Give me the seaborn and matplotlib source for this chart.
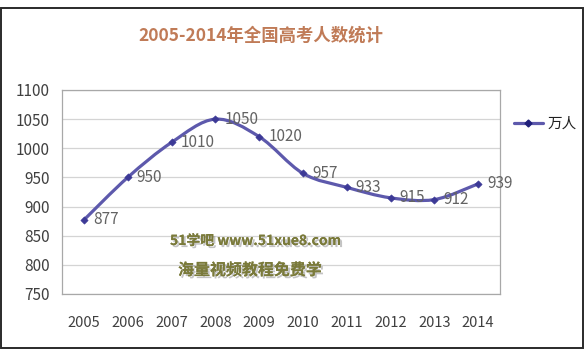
import matplotlib
matplotlib.use("Agg")
import matplotlib.pyplot as plt
import matplotlib.patheffects as pe
from matplotlib.path import Path
from matplotlib.patches import PathPatch, Rectangle
from matplotlib.lines import Line2D
import seaborn as sns
import numpy as np
import pandas as pd

years = ["2005", "2006", "2007", "2008", "2009", "2010", "2011", "2012", "2013", "2014"]
values = [877, 950, 1010, 1050, 1020, 957, 933, 915, 912, 939]
series_name = "万人"
title = "2005-2014年全国高考人数统计"
yticks = [750, 800, 850, 900, 950, 1000, 1050, 1100]
wm1 = "51学吧 www.51xue8.com"
wm2 = "海量视频教程免费学"

sns.set_theme(style="white")
plt.rcParams["font.family"] = ["Noto Sans CJK SC", "DejaVu Sans"]

fig = plt.figure(figsize=(5.84, 3.56), dpi=100)
ax = fig.add_axes([62/584, 1 - 294/356, (500-62)/584, (294-90)/356])

df = pd.DataFrame({"idx": np.arange(len(years)), "val": values})
line_color = "#5D59AC"
mark_color = "#3C3996"

# smooth curve (Excel-style) through the data points, drawn in data coordinates
pts = np.column_stack([df["idx"].values, df["val"].values]).astype(float)
verts = [tuple(pts[0])]
codes = [Path.MOVETO]
n = len(pts)
for i in range(n - 1):
    p0 = pts[i - 1] if i > 0 else pts[i]
    p1 = pts[i]
    p2 = pts[i + 1]
    p3 = pts[i + 2] if i + 2 < n else pts[i + 1]
    c1 = p1 + (p2 - p0) / 6.0
    c2 = p2 - (p3 - p1) / 6.0
    verts += [tuple(c1), tuple(c2), tuple(p2)]
    codes += [Path.CURVE4, Path.CURVE4, Path.CURVE4]
ax.add_patch(PathPatch(Path(verts, codes), facecolor="none", edgecolor=line_color,
                       linewidth=2.3, capstyle="round", joinstyle="round", zorder=3))

sns.scatterplot(data=df, x="idx", y="val", marker="D", s=14, color=mark_color,
                edgecolor=mark_color, linewidth=0.4, ax=ax, zorder=4, legend=False)

for i, v in enumerate(values):
    ax.annotate(str(v), (i, v), xytext=(6.5, 0), textcoords="offset points",
                ha="left", va="center", fontsize=11, color="#636363", zorder=5)

ax.set_xlim(-0.5, len(years) - 0.5)
ax.set_ylim(750, 1100)
ax.set_yticks(yticks)
ax.set_xticks(range(len(years)))
ax.set_xticklabels(years)
ax.set_xlabel("")
ax.set_ylabel("")
ax.tick_params(axis="y", length=0, pad=9, labelsize=11, labelcolor="#404040")
ax.tick_params(axis="x", length=0, pad=16, labelsize=10.5, labelcolor="#404040")
ax.grid(axis="y", color="#D4D4D4", linewidth=0.9)
ax.set_axisbelow(True)
for s in ax.spines.values():
    s.set_color("#A8A8A8")
    s.set_linewidth(0.9)
ax.set_facecolor("none")

# legend
handle = Line2D([0], [0], color=line_color, linewidth=2.3, marker="D", markersize=3.5,
                markerfacecolor="#1F1F7A", markeredgecolor="#1F1F7A")
fig.legend([handle], [series_name], loc="center left", bbox_to_anchor=(508/584, 1 - 124/356),
           frameon=False, fontsize=10.5, handlelength=2.0, handletextpad=0.3,
           borderaxespad=0, labelcolor="#202020")

# title
fig.text(261/584, 1 - 36/356, title, ha="center", va="center", fontsize=12.5,
         fontweight="bold", color="#C07B57")

# watermark texts
shadow = [pe.withSimplePatchShadow(offset=(1.5, -1.5), shadow_rgbFace="#888888", alpha=0.5), pe.Normal()]
fig.text(170/584, 1 - 241/356, wm1, ha="left", va="center", fontsize=10,
         fontweight="bold", color="#7A7A3A", path_effects=shadow)
fig.text(178/584, 1 - 270/356, wm2, ha="left", va="center", fontsize=11.5,
         fontweight="bold", color="#7A7A3A", path_effects=shadow)

# outer frame
fig.patches.append(Rectangle((1/584, 1 - 348/356), 582/584, 340/356, transform=fig.transFigure,
                             fill=False, edgecolor="#2A2A2A", linewidth=1.4))

fig.savefig("out.png", dpi=100)
